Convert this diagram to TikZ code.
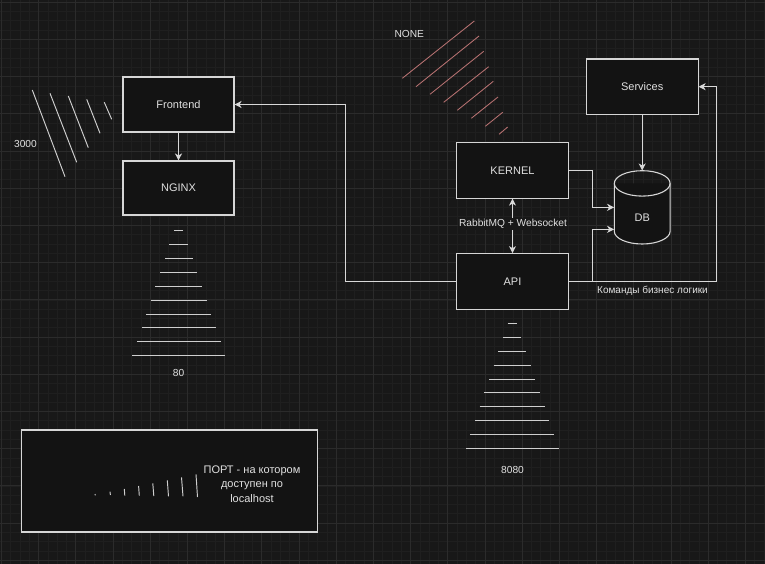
\documentclass[tikz,border=0pt]{standalone}
\usepackage{fontspec}
\setmainfont{Liberation Sans}
\usetikzlibrary{arrows.meta}
\definecolor{bgc}{HTML}{181818}
\definecolor{minorc}{HTML}{1F1F1F}
\definecolor{majorc}{HTML}{2B2B2B}
\definecolor{boxfill}{HTML}{131313}
\definecolor{strokec}{HTML}{D6D6D6}
\definecolor{textc}{HTML}{E0E0E0}
\definecolor{hatchc}{HTML}{CFCFCF}
\definecolor{pinkc}{HTML}{B87272}
\tikzset{
  box/.style={draw=strokec, fill=boxfill, line width=1.1pt, minimum width=111pt, minimum height=55pt, inner sep=0pt, text=textc, font=\fontsize{11}{13}\selectfont},
  conn/.style={draw=strokec!95!white, line width=1.1pt, -{Stealth[length=7pt,width=7pt,inset=2pt]}},
  lbl/.style={text=textc, font=\fontsize{10.2}{12.2}\selectfont, inner sep=1pt},
  hatch/.style={draw=hatchc, line width=0.95pt},
  phatch/.style={draw=pinkc, line width=0.85pt},
}
\begin{document}
\begin{tikzpicture}[x=1pt,y=-1pt]
\useasboundingbox (0,0) rectangle (765,564);
\fill[bgc] (0,0) rectangle (765,564);
% grid
\foreach \i in {0,...,82} {
  \draw[minorc, line width=0.6pt] ({1.3+\i*9.3},0) -- ({1.3+\i*9.3},564);
}
\foreach \i in {0,...,61} {
  \draw[minorc, line width=0.6pt] (0,{2.2+\i*9.3}) -- (765,{2.2+\i*9.3});
}
\foreach \i in {0,...,20} {
  \draw[majorc, line width=0.8pt] ({1.3+\i*37.2},0) -- ({1.3+\i*37.2},564);
}
\foreach \i in {0,...,15} {
  \draw[majorc, line width=0.8pt] (0,{2.2+\i*37.2}) -- (765,{2.2+\i*37.2});
}

% boxes
\node[box] (front) at (178.5,104.5) {Frontend};
\node[box, minimum height=54pt] (nginx) at (178.5,188) {NGINX};
\node[box, minimum width=111.6pt, minimum height=55.3pt] (kernel) at (512.5,170.4) {KERNEL};
\node[box, minimum width=111.6pt, minimum height=55.6pt] (api) at (512.5,281.5) {API};
\node[box, minimum width=111.7pt, minimum height=55.3pt] (serv) at (642.2,86.7) {Services};

% DB cylinder
\node[minimum width=55.7pt, minimum height=73.3pt, inner sep=0pt] (db) at (642.2,207.35) {};
\filldraw[draw=strokec, fill=boxfill, line width=1.1pt]
  (614.3,183.4) -- (614.3,231.3)
  .. controls (614.3,238.3) and (626.8,244) .. (642.2,244)
  .. controls (657.6,244) and (670.1,238.3) .. (670.1,231.3)
  -- (670.1,183.4);
\draw[strokec, line width=1.1pt] (642.2,183.4) ellipse (27.9 and 12.7);
\node[text=textc, font=\fontsize{11}{13}\selectfont] (dbl) at (642.2,218) {DB};

% connectors
\draw[conn] (front.south) -- (nginx.north);
\draw[conn] (api.west) -- ++(-111,0) |- (front.east);
\draw[conn] (api.east) -- ++(148,0) |- (serv.east);
\draw[conn] (api.east) -- ++(23.4,0) |- ([yshift=-22pt]db.west);
\draw[conn] (kernel.east) -- ++(23.4,0) |- (db.west);
\draw[conn] (serv.south) -- (db.north);
\draw[conn, {Stealth[length=7pt,width=7pt,inset=2pt]}-{Stealth[length=7pt,width=7pt,inset=2pt]}] (kernel.south) -- (api.north);
\node[lbl, fill=bgc] (rmq) at (513,224) {RabbitMQ + Websocket};
\node[lbl, font=\fontsize{10}{12}\selectfont] (cmd) at (652.5,291) {Команды бизнес логики};

% labels
\node[lbl] (p3000) at (25.5,144) {3000};
\node[lbl] (p80) at (178.5,373) {80};
\node[lbl] (p8080) at (512.5,470) {8080};
\node[lbl] (none) at (409.3,33.7) {NONE};

% 3000 hatch
\draw[hatch] (32.3,90) -- (65,176.7);
\draw[hatch] (50,93.3) -- (76.7,162.3);
\draw[hatch] (68.3,96) -- (88.3,147.7);
\draw[hatch] (86.7,99.3) -- (100,133.3);
\draw[hatch] (104.3,102.3) -- (111.7,119.3);

% NONE hatch
\draw[phatch] (402.3,78.3) -- (474.3,21);
\draw[phatch] (416,86.7) -- (479,36);
\draw[phatch] (430,94.3) -- (483.7,51.3);
\draw[phatch] (443.7,102.3) -- (488.7,66.7);
\draw[phatch] (457.3,110.3) -- (493.3,81.3);
\draw[phatch] (471.3,118.3) -- (498,97);
\draw[phatch] (485.3,126.3) -- (502.7,112.3);
\draw[phatch] (499,134.3) -- (507.7,127);

% 80 hatch
\foreach \y/\a/\b in {230.7/174/183.3, 244.3/169.3/188, 258.3/165/192.7, 272.3/160/197.3, 286/155.3/202, 300/151/206.7, 314/146.3/211, 327.7/141.7/216, 341.7/137/220.7, 355.7/132.3/225.3} {
  \draw[hatch] (\a,\y) -- (\b,\y);
}
% 8080 hatch
\foreach \y/\a/\b in {323.3/507.7/517, 337/503/521.3, 351/498.3/526, 365/493.7/530.7, 379/489/535.3, 392.7/484.3/540, 406.7/479.7/544.7, 420.7/475/549.3, 434.3/470.3/554, 448.3/466/558.7} {
  \draw[hatch] (\a,\y) -- (\b,\y);
}

% legend
\node[draw=strokec, fill=boxfill, line width=1.1pt, minimum width=296.5pt, minimum height=102pt, inner sep=0pt] (legend) at (169.3,481) {};
\node[lbl, align=center, font=\fontsize{11}{14.5}\selectfont] (legtext) at (252,484) {ПОРТ - на котором\\доступен по\\localhost};
\draw[hatch] (95,494) -- (95.3,495.3);
\draw[hatch] (110,491.7) -- (110.4,495);
\draw[hatch] (124.3,489) -- (124.8,495.7);
\draw[hatch] (138.6,486) -- (139.3,495.7);
\draw[hatch] (152.8,483.3) -- (153.8,496);
\draw[hatch] (167.3,480.3) -- (168.5,496.3);
\draw[hatch] (181.5,477.3) -- (183,496.3);
\draw[hatch] (196,474.3) -- (197.5,497);
\end{tikzpicture}
\end{document}
